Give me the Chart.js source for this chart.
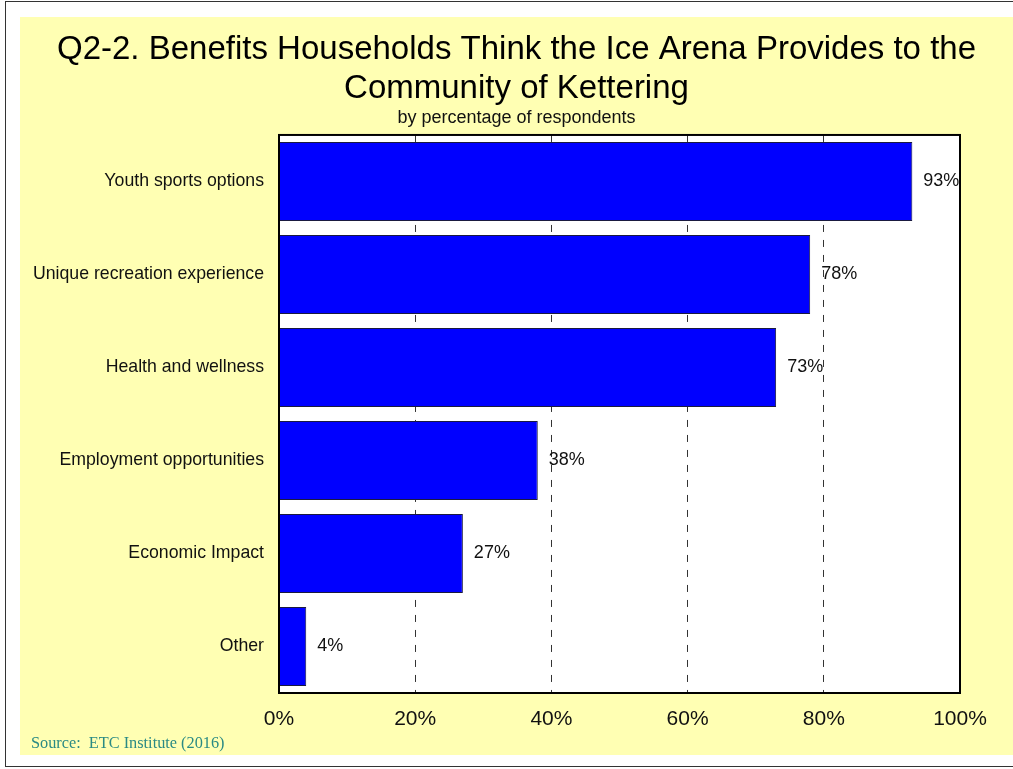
<!DOCTYPE html>
<html lang="en">

<head>
    <meta charset="UTF-8">
    <title>Ice Arena Benefits</title>
    <script src="https://cdn.jsdelivr.net/npm/chart.js@4/dist/chart.umd.min.js"></script>
    <style>
        body { margin: 0; background: #fff; }
        #frame {
            position: absolute; left: 5px; top: 1px; width: 1010px; height: 766px;
            border: 1px solid #333; box-sizing: border-box;
        }
        #panel {
            position: absolute; left: 20px; top: 17px; width: 993px; height: 738px;
            background: #ffffb3;
        }
    </style>
</head>

<body>
    <div id="frame"></div>
    <div id="panel"><canvas id="mychart" width="993" height="738"></canvas></div>

    <script>
        // survey answers, share of respondents
        const benefits = [
            'Youth sports options',
            'Unique recreation experience',
            'Health and wellness',
            'Employment opportunities',
            'Economic Impact',
            'Other'
        ];
        const percents = [93, 78, 73, 38, 27, 4];
        const xTicks = [0, 20, 40, 60, 80, 100];

        const sans = "Arial, 'Liberation Sans', sans-serif";

        // white plot box and its black frame
        const plotBox = {
            id: 'plotBox',
            beforeDraw(chart) {
                const a = chart.chartArea, c = chart.ctx;
                c.save();
                c.fillStyle = '#fff';
                c.fillRect(a.left, a.top, a.right - a.left, a.bottom - a.top);
                c.restore();
            },
            afterDraw(chart) {
                const a = chart.chartArea, c = chart.ctx;
                c.save();
                c.strokeStyle = '#000';
                c.lineWidth = 2;
                c.strokeRect(a.left, a.top, a.right - a.left, a.bottom - a.top);
                // source note
                c.fillStyle = '#2a8a84';
                c.font = "16.3px 'Liberation Serif', 'Times New Roman', serif";
                c.textBaseline = 'middle';
                c.textAlign = 'left';
                c.fillText('Source:  ETC Institute (2016)', 11, 727);
                c.restore();
            }
        };

        // value text to the right of each bar
        const barValues = {
            id: 'barValues',
            afterDatasetsDraw(chart) {
                const c = chart.ctx;
                const meta = chart.getDatasetMeta(0);
                c.save();
                c.fillStyle = '#111';
                c.font = '18px ' + sans;
                c.textBaseline = 'middle';
                c.textAlign = 'left';
                meta.data.forEach((bar, i) => {
                    c.fillText(percents[i] + '%', bar.x + 11, bar.y);
                });
                c.restore();
            }
        };

        const ctx = document.getElementById('mychart');
        const mychart = new Chart(ctx, {
            type: 'bar',
            data: {
                labels: benefits,
                datasets: [{
                    data: percents,
                    backgroundColor: '#0000ff',
                    borderColor: '#1a1a40',
                    borderWidth: 1,
                    categoryPercentage: 0.85,
                    barPercentage: 1
                }]
            },
            options: {
                indexAxis: 'y',
                responsive: false,
                animation: false,
                layout: { padding: 0 },
                plugins: {
                    legend: { display: false },
                    tooltip: { enabled: false },
                    title: {
                        display: true,
                        text: ['Q2-2. Benefits Households Think the Ice Arena Provides to the', 'Community of Kettering'],
                        color: '#000',
                        font: { family: sans, size: 33, weight: 'normal', lineHeight: 1.16 },
                        padding: { top: 14, bottom: 0 }
                    },
                    subtitle: {
                        display: true,
                        text: 'by percentage of respondents',
                        color: '#111',
                        font: { family: sans, size: 18, lineHeight: 1.2 },
                        padding: { top: 0, bottom: 5.8 }
                    }
                },
                scales: {
                    x: {
                        min: 0,
                        max: 100,
                        afterBuildTicks(scale) {
                            scale.ticks = xTicks.map(v => ({ value: v }));
                        },
                        afterFit(scale) { scale.height = 62; },
                        grid: { color: '#333', lineWidth: 1, drawTicks: false },
                        border: { display: false, dash: [7, 8] },
                        ticks: {
                            color: '#111',
                            padding: 14,
                            font: { family: sans, size: 21 },
                            callback: v => v + '%'
                        }
                    },
                    y: {
                        afterFit(scale) { scale.width = 259; },
                        grid: { display: false, drawTicks: false },
                        border: { display: false },
                        ticks: {
                            color: '#111',
                            padding: 15,
                            font: { family: sans, size: 17.7 }
                        }
                    },
                    // empty strip on the right so the plot stops short of the edge
                    yRight: {
                        type: 'category',
                        position: 'right',
                        afterFit(scale) { scale.width = 53; },
                        grid: { display: false, drawTicks: false },
                        border: { display: false },
                        ticks: { display: false }
                    }
                }
            },
            plugins: [plotBox, barValues]
        });
    </script>
</body>

</html>
